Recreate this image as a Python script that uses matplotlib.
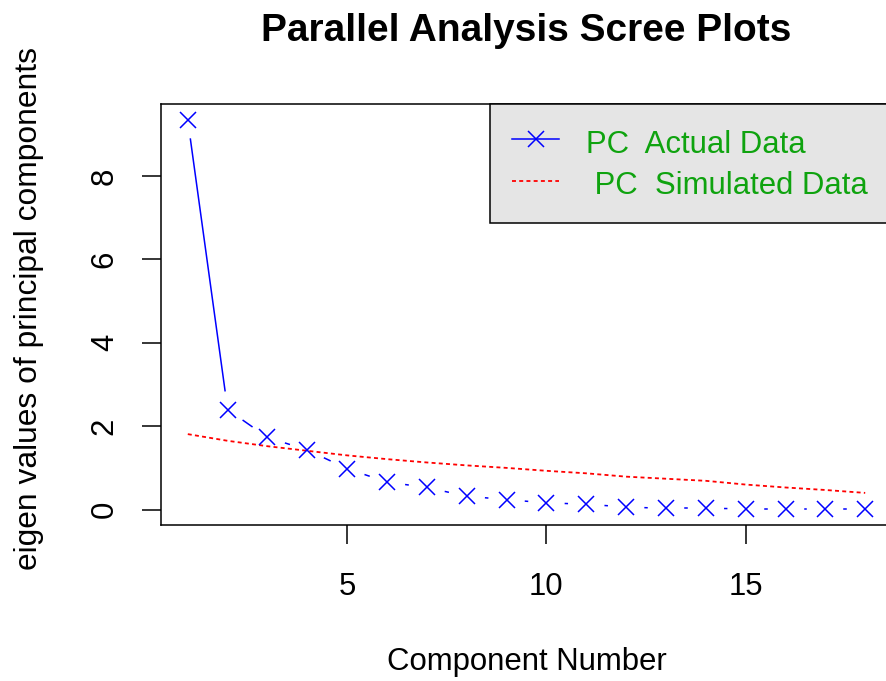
import numpy as np
import matplotlib
matplotlib.use("Agg")
import matplotlib.pyplot as plt
from matplotlib.lines import Line2D

plt.rcParams['font.family'] = ['Liberation Sans', 'DejaVu Sans']

# eigen values
components = np.arange(1, 19)
actual = [9.34, 2.40, 1.73, 1.43, 0.98, 0.66, 0.53, 0.32, 0.24, 0.16,
          0.13, 0.06, 0.03, 0.03, 0.02, 0.02, 0.02, 0.02]
simulated = [1.81, 1.65, 1.52, 1.41, 1.30, 1.21, 1.13, 1.06, 1.00, 0.93,
             0.87, 0.79, 0.74, 0.69, 0.60, 0.53, 0.47, 0.40]
legend_labels = ["PC  Actual Data", " PC  Simulated Data"]
xticks = [5, 10, 15]
yticks = [0, 2, 4, 6, 8]

W, H = 886, 681
FS = 22.4


def draw():
    fig = plt.figure(figsize=(W / 100, H / 100), dpi=100)
    ax = fig.add_axes([160.7 / W, 1 - 525 / H, (892.3 - 160.7) / W, (525 - 104) / H])
    ax.set_xlim(0.32, 18.68)
    ax.set_ylim(-0.37, 9.73)

    # simulated data, dotted red
    ax.plot(components, simulated, color='red', lw=1.3, dashes=(2.2, 1.8))
    # actual data, R type="b": points plus lines with a gap round each point
    ax.plot(components, actual, linestyle='none', marker='x', ms=11.5, mew=1.1,
            color='blue')
    gap = 19
    pts = ax.transData.transform(np.column_stack([components, actual]))
    inv = ax.transData.inverted()
    for p0, p1 in zip(pts[:-1], pts[1:]):
        d = p1 - p0
        L = np.hypot(d[0], d[1])
        if L > 2 * gap:
            u = d / L
            seg = inv.transform(np.array([p0 + u * gap, p1 - u * gap]))
            ax.plot(seg[:, 0], seg[:, 1], color='blue', lw=1.1)

    ax.set_xticks(xticks)
    ax.set_yticks(yticks)
    ax.tick_params(axis='both', length=13.5, width=1.1, labelsize=FS,
                   direction='out', top=False, right=False)
    ax.tick_params(axis='x', pad=20.3)
    ax.tick_params(axis='y', pad=15.9)
    for lbl in ax.get_yticklabels():
        lbl.set_rotation(90)
        lbl.set_va('center')
    for s in ax.spines.values():
        s.set_linewidth(1.1)
        s.set_color('black')

    ax.set_title('Parallel Analysis Scree Plots', fontsize=28,
                 fontweight='bold', y=(525 - 41) / 421, pad=0, va='baseline')
    ax.set_xlabel('Component Number', fontsize=FS, va='baseline')
    ax.xaxis.set_label_coords(0.5, (525 - 670) / 421)
    ax.set_ylabel('eigen values of principal components', fontsize=22.9,
                  va='baseline')
    ax.yaxis.set_label_coords((37 - 160.7) / 731.6, 1 - (309 - 104) / 421)

    handles = [Line2D([], [], color='blue', lw=1.1, marker='x', ms=11.5, mew=1.1),
               Line2D([], [], color='red', lw=1.3, dashes=(2.2, 1.8))]
    leg = ax.legend(handles, legend_labels, loc='upper left',
                    bbox_to_anchor=(490 / W, 1 - 104 / H),
                    bbox_transform=fig.transFigure, borderaxespad=0,
                    fancybox=False, facecolor='#e5e5e5', edgecolor='black',
                    framealpha=1, fontsize=FS, handlelength=1.53,
                    handleheight=1.25, handletextpad=0.86, borderpad=0.70,
                    labelspacing=0.25, numpoints=1, labelcolor='#0fa30f')
    leg.get_frame().set_linewidth(1.1)

    fig.savefig("out.png", dpi=100)


draw()
